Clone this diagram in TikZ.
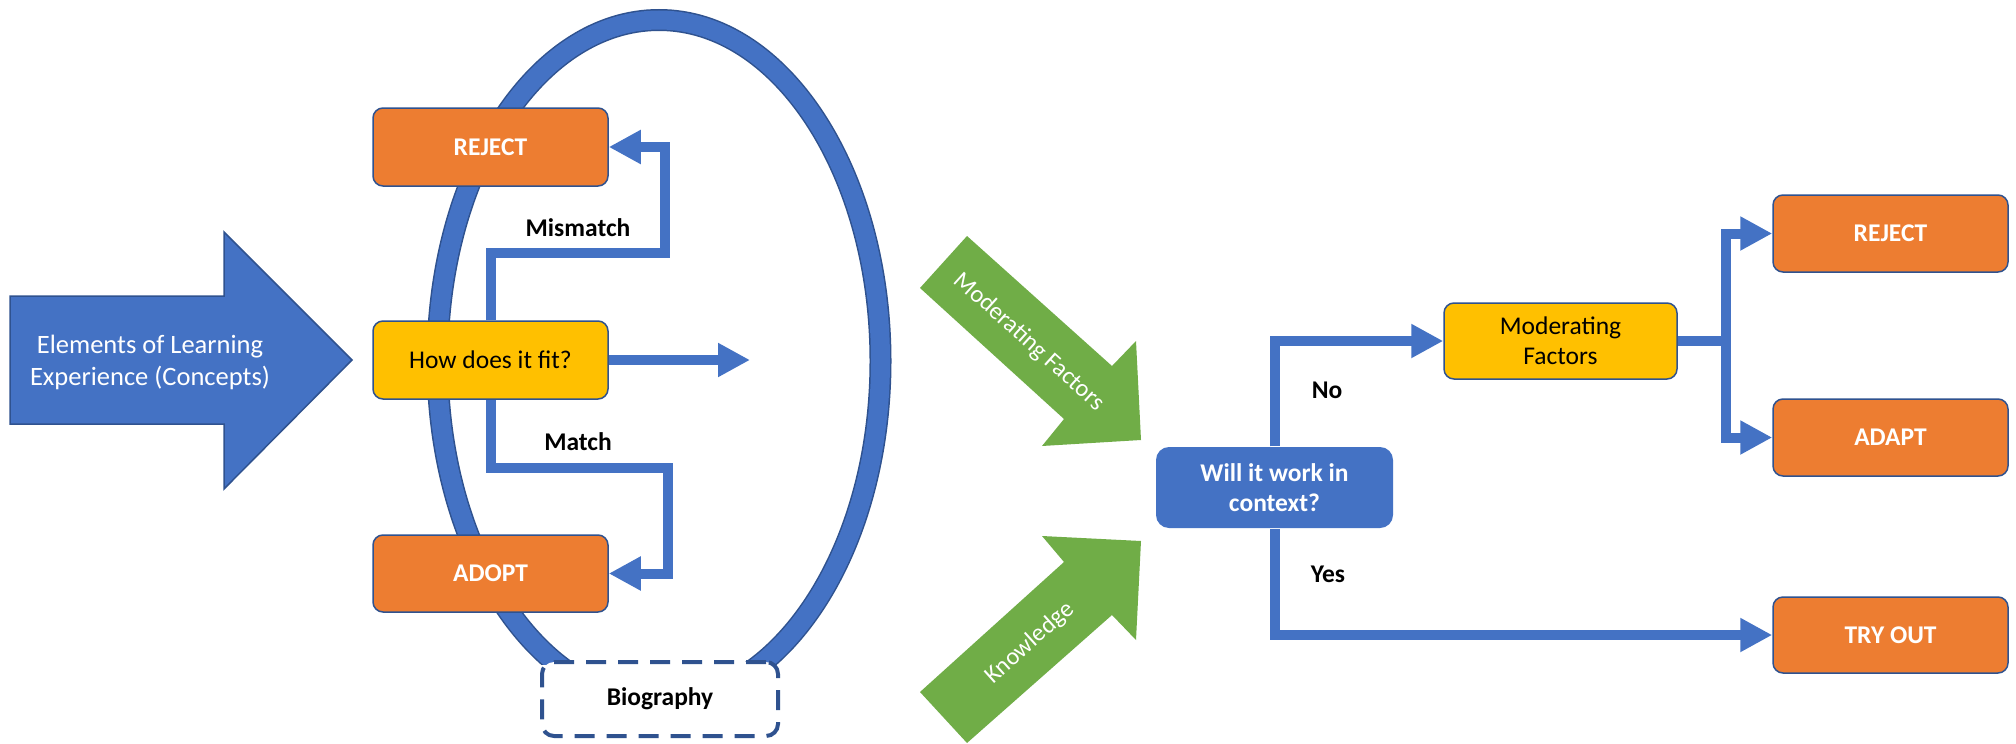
\documentclass[tikz,border=0pt]{standalone}
\usepackage{fontspec}
\setmainfont{Carlito}
\usetikzlibrary{arrows.meta}
\definecolor{cblue}{HTML}{4472C4}
\definecolor{cdark}{HTML}{2F528F}
\definecolor{corange}{HTML}{ED7D31}
\definecolor{cyellow}{HTML}{FFC000}
\definecolor{cgreen}{HTML}{70AD47}
\begin{document}
\begin{tikzpicture}[x=1pt,y=-1pt,
  box/.style={draw=cdark, line width=1.5pt, rounded corners=10pt, minimum width=235pt, minimum height=77pt, inner sep=0pt, align=center, font=\fontsize{25.5}{30.5}\selectfont},
  orangebox/.style={box, fill=corange, text=white, font=\bfseries\fontsize{25.5}{30.5}\selectfont},
  yellowbox/.style={box, fill=cyellow, text=black},
  conn/.style={draw=cblue, line width=10pt},
  arr/.style={conn, -{Triangle[length=32pt,width=32pt]}},
  lbl/.style={font=\bfseries\fontsize{25.5}{30}\selectfont, inner sep=0pt, text=black},
  gtext/.style={font=\fontsize{24.5}{28}\selectfont, text=white, inner sep=0pt}
]
\useasboundingbox (0,0) rectangle (2016,744);
\fill[white] (0,0) rectangle (2016,744);

% ring
\begin{scope}
\clip (300,0) rectangle (1000,664);
\draw[cdark, line width=22pt] (659,361) ellipse [x radius=221.5, y radius=341];
\draw[cblue, line width=19pt] (659,361) ellipse [x radius=221.5, y radius=341];
\end{scope}

% big input arrow
\draw[fill=cblue, draw=cdark, line width=1.5pt]
  (10,296) -- (224,296) -- (224,232) -- (352,360) -- (224,489) -- (224,424) -- (10,424) -- cycle;
\node[align=center, text=white, font=\fontsize{26.5}{32}\selectfont, inner sep=0pt] (elem) at (150,362)
  {Elements of Learning\\Experience (Concepts)};

% green arrows
\fill[cgreen] (967,236) -- (1112,366) -- (1136,341) -- (1141,440) -- (1042,446) -- (1064,419) -- (920,288) -- cycle;
\node[gtext, rotate=-42] (gmod) at (1029,342) {Moderating Factors};
\fill[cgreen] (920,692) -- (1064,562) -- (1042,536) -- (1141,541) -- (1136,640) -- (1112,615) -- (967,743) -- cycle;
\node[gtext, rotate=42] (gknow) at (1030,643) {Knowledge};

% left boxes
\node[orangebox, minimum height=78pt] (rejL) at (490.5,147) {REJECT};
\node[yellowbox, minimum height=78pt] (fit) at (490.5,360) {How does it fit?};
\node[orangebox] (adopt) at (490.5,573.5) {ADOPT};

% biography
\node[draw=cdark, line width=4pt, dash pattern=on 20pt off 12pt, rounded corners=12pt, fill=white,
  minimum width=236pt, minimum height=74pt, inner sep=0pt, font=\bfseries\fontsize{25.5}{30}\selectfont] (bio) at (660,699) {Biography};

% left connectors
\coordinate (m1) at (665,253);
\coordinate (m2) at (668,468);
\coordinate (fitend) at (750,360);
\draw[arr] (fit.north) |- (m1) |- (rejL.east);
\draw[arr] (fit.south) |- (m2) |- (adopt.east);
\draw[arr] (fit.east) -- (fitend);
\node[lbl] (lmis) at (578,228) {Mismatch};
\node[lbl] (lmat) at (578,442) {Match};

% right side
\node[box, fill=cblue, text=white, font=\bfseries\fontsize{25.5}{30}\selectfont, minimum width=237pt, minimum height=81pt, rounded corners=13pt, draw=none] (will) at (1274.5,487.5) {Will it work in\\context?};
\node[yellowbox, minimum width=233pt, minimum height=76pt, font=\fontsize{25.5}{30}\selectfont] (mf) at (1560.5,341) {Moderating\\Factors};
\node[orangebox] (rejR) at (1890.5,233.5) {REJECT};
\node[orangebox] (adapt) at (1890.5,437.5) {ADAPT};
\node[orangebox, minimum height=76pt] (try) at (1890.5,635) {TRY OUT};

\draw[arr] (will.north) |- (mf.west);
\draw[arr] (will.south) |- (try.west);
\coordinate (j) at (1726,341);
\draw[arr] (mf.east) -- (j) |- (rejR.west);
\draw[arr] (j) |- (adapt.west);
\node[lbl] (lno) at (1327,390) {No};
\node[lbl] (lyes) at (1328,574) {Yes};
\end{tikzpicture}
\end{document}
